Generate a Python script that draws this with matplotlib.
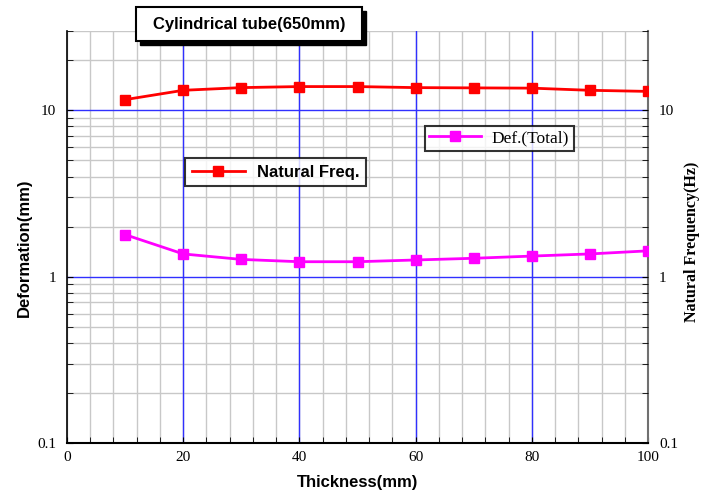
import matplotlib
matplotlib.use("Agg")
import matplotlib.pyplot as plt
import numpy as np
from matplotlib.ticker import FixedLocator, NullFormatter
from matplotlib.patches import Rectangle

thickness = [10, 20, 30, 40, 50, 60, 70, 80, 90, 100]
natural_freq = [11.6, 13.2, 13.7, 13.9, 13.9, 13.7, 13.65, 13.6, 13.2, 13.0]
deformation = [1.79, 1.37, 1.27, 1.23, 1.23, 1.26, 1.29, 1.33, 1.37, 1.43]
x_ticks = [0, 20, 40, 60, 80, 100]
y_ticks = [0.1, 1, 10]
y_ticklabels = ["0.1", "1", "10"]

fig = plt.figure(figsize=(7.02, 4.95), dpi=100)
ax = fig.add_axes([67/702, 1-443/495, (648-67)/702, (443-31)/495])
ax.set_yscale("log")
ax.set_xlim(0, 100)
ax.set_ylim(0.1, 30)

# grid
minor_x = [v for v in np.arange(0, 101, 4)]
for v in minor_x:
    ax.axvline(v, color="#c8c8c8", lw=1.0, zorder=0)
for v in [20, 40, 60, 80]:
    ax.axvline(v, color="#3030ff", lw=1.0, zorder=1)
minor_y = [m * 10.0**e for e in (-1, 0, 1) for m in range(2, 10) if m * 10.0**e <= 30]
for v in minor_y:
    ax.axhline(v, color="#c8c8c8", lw=1.0, zorder=0)
for v in [1, 10]:
    ax.axhline(v, color="#3030ff", lw=1.0, zorder=1)

serif = ["Liberation Serif", "DejaVu Serif"]
sans = ["Liberation Sans", "DejaVu Sans"]

l1, = ax.plot(thickness, natural_freq, color="#ff0000", lw=2, marker="s", ms=7,
              label="Natural Freq.", zorder=3)
l2, = ax.plot(thickness, deformation, color="#ff00ff", lw=2, marker="s", ms=7,
              label="Def.(Total)", zorder=3)

ax.set_xticks(x_ticks)
ax.set_xticklabels([str(v) for v in x_ticks], family=serif, fontsize=11)
ax.xaxis.set_minor_locator(FixedLocator(minor_x))
ax.set_yticks(y_ticks)
ax.set_yticklabels(y_ticklabels, family=serif, fontsize=11)
ax.yaxis.set_minor_locator(FixedLocator(minor_y))
ax.yaxis.set_minor_formatter(NullFormatter())
ax.tick_params(which="both", direction="in", length=4, color="black")
ax.tick_params(axis="x", which="major", pad=6)
ax.tick_params(axis="y", which="major", pad=8)

ax.spines["top"].set_visible(False)
ax.spines["right"].set_color("#707070")
ax.spines["right"].set_linewidth(1.5)
ax.spines["left"].set_linewidth(1.2)
ax.spines["bottom"].set_linewidth(1.5)

ax2 = ax.twinx()
ax2.set_position(ax.get_position())
ax2.set_yscale("log")
ax2.set_ylim(0.1, 30)
ax2.set_yticks(y_ticks)
ax2.set_yticklabels(y_ticklabels, family=serif, fontsize=11)
ax2.yaxis.set_minor_locator(FixedLocator(minor_y))
ax2.yaxis.set_minor_formatter(NullFormatter())
ax2.tick_params(which="both", direction="in", length=4)
ax2.tick_params(axis="y", which="major", pad=8)
for s in ax2.spines.values():
    s.set_visible(False)

ax.set_xlabel("Thickness(mm)", family=sans, fontsize=12, fontweight="bold", labelpad=8)
ax.set_ylabel("Deformation(mm)", family=sans, fontsize=12, fontweight="bold")
ax.yaxis.set_label_coords((32-67)/581, (443-248)/412)
ax2.set_ylabel("Natural Frequency(Hz)", family=serif, fontsize=11.5, fontweight="bold",
               rotation=90)
ax2.yaxis.set_label_coords((684-67)/581, (443-242)/412)

# Legends
leg1 = ax.legend(handles=[l1], loc="upper left", bbox_to_anchor=((185-67)/581, (443-158)/412),
                 bbox_transform=ax.transAxes, frameon=True, fancybox=False, borderaxespad=0,
                 prop={"family": sans, "weight": "bold", "size": 12}, handlelength=3.2,
                 borderpad=0.4, handletextpad=0.7, markerscale=1.0)
leg1.get_frame().set_edgecolor("black")
leg1.get_frame().set_linewidth(1.5)
ax.add_artist(leg1)
leg2 = ax.legend(handles=[l2], loc="upper left", bbox_to_anchor=((425-67)/581, (443-126)/412),
                 bbox_transform=ax.transAxes, frameon=True, fancybox=False, borderaxespad=0,
                 prop={"family": serif, "size": 12.5}, handlelength=3.0,
                 borderpad=0.25, handletextpad=0.6)
leg2.get_frame().set_edgecolor("black")
leg2.get_frame().set_linewidth(1.5)

# Title box with shadow
fig.patches.append(Rectangle((140/702, 1-45/495), (362-136)/702, (41-7)/495,
                             transform=fig.transFigure, facecolor="black", edgecolor="black", zorder=5))
fig.patches.append(Rectangle((136/702, 1-41/495), (362-136)/702, (41-7)/495,
                             transform=fig.transFigure, facecolor="white", edgecolor="black",
                             lw=1.5, zorder=6))
fig.text((136+362)/2/702, 1-24/495, "Cylindrical tube(650mm)", ha="center", va="center",
         family=sans, fontsize=12, fontweight="bold", zorder=7)

fig.savefig("out.png", dpi=100)
